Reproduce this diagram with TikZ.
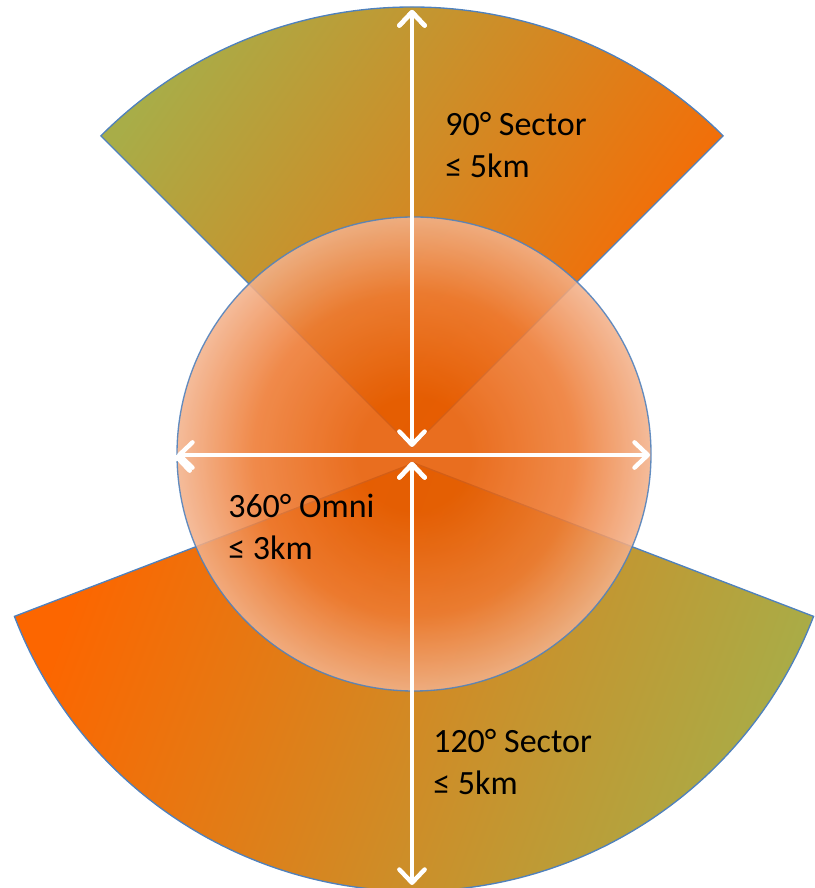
\documentclass[tikz,border=0pt]{standalone}
\usepackage{fontspec}
\setmainfont{Carlito}
\usetikzlibrary{arrows.meta}
\definecolor{sectorolive}{HTML}{A8AD48}
\definecolor{sectororange}{HTML}{FC6600}
\definecolor{omniinner}{HTML}{E65A00}
\definecolor{omnimid}{HTML}{EE7A32}
\definecolor{omniouter}{HTML}{F2B28C}
\definecolor{rimblue}{HTML}{4F81BD}
\pgfdeclareradialshading{omniglow}{\pgfpoint{0bp}{0bp}}{color(0bp)=(omniinner); color(6bp)=(omniinner); color(17bp)=(omnimid); color(25bp)=(omniouter); color(50bp)=(omniouter)}
\begin{document}
\begin{tikzpicture}[x=0.75pt, y=0.75pt,
  rim/.style={draw=rimblue, line width=1pt},
  spanarrow/.style={draw=white, line width=3.3pt, {Straight Barb[length=10pt,width=19pt,round]}-{Straight Barb[length=10pt,width=19pt,round]}},
  txt/.style={anchor=west, inner sep=0pt, align=left, font=\fontsize{25.5}{31}\selectfont}]
\useasboundingbox (0,0) rectangle (814,888);
\shadedraw[rim, left color=sectorolive, right color=sectororange, shading angle=55] (412,441) -- +(45:440) arc (45:135:440) -- cycle;
\shadedraw[rim, left color=sectororange, right color=sectorolive, shading angle=70] (414,425) -- +(201:428) arc (201:339:428) -- cycle;
\shadedraw[rim, shading=omniglow, opacity=0.88] (414,434) circle (237);
\coordinate (up) at (412,878);
\coordinate (hub) at (412,441);
\coordinate (west) at (177,433);
\coordinate (east) at (650,433);
\coordinate (hubdown) at (412,426);
\coordinate (down) at (412,3);
\path [spanarrow] (up) edge (hub);
\path [spanarrow] (west) edge (east);
\path [spanarrow] (hubdown) edge (down);
\node[txt] (sector90) at (445,743) {90° Sector\\≤ 5km};
\node[txt] (omni) at (228,361) {360° Omni\\≤ 3km};
\node[txt] (sector120) at (433,126) {120° Sector\\≤ 5km};
\end{tikzpicture}
\end{document}
